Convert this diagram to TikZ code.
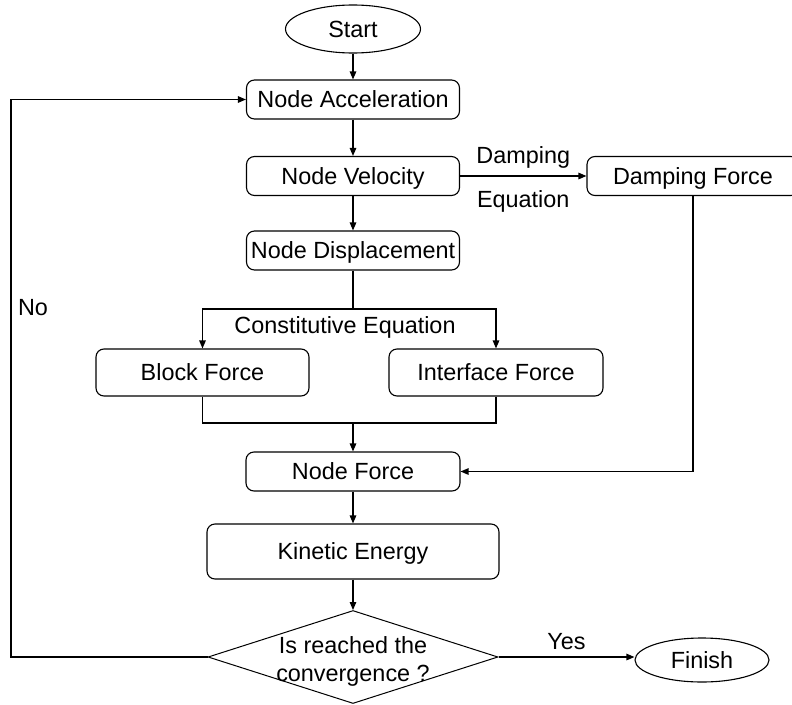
\documentclass[tikz,border=0pt]{standalone}
\usepackage{fontspec}
\setmainfont{Liberation Sans}
\usetikzlibrary{arrows.meta,shapes.geometric}
\begin{document}
\begin{tikzpicture}[x=1pt,y=-1pt,
  every node/.style={font=\fontsize{23.4}{28}\selectfont,
    text height=16.75pt, text depth=0pt, inner sep=0pt},
  proc/.style={draw, rounded corners=8pt, line width=1.1pt},
  term/.style={draw, ellipse, line width=1.1pt},
  decide/.style={draw, diamond, line width=1pt},
  flow/.style={line width=1.2pt, -{Triangle[length=8pt,width=6.5pt]}},
  link/.style={line width=1.2pt}]
\useasboundingbox (0,0) rectangle (792,704);

% terminals
\node[term, minimum width=135pt, minimum height=48pt] (start) at (353,29) {Start};
\node[term, minimum width=134pt, minimum height=44pt] (finish) at (702,660) {Finish};

% process boxes
\node[proc, minimum width=213pt, minimum height=39pt] (acc)   at (353,99.5)  {Node Acceleration};
\node[proc, minimum width=213pt, minimum height=39pt] (vel)   at (353,176)   {Node Velocity};
\node[proc, minimum width=212pt, minimum height=39pt] (damp)  at (693,176)   {Damping Force};
\node[proc, minimum width=213pt, minimum height=39pt] (disp)  at (353,250.5) {Node Displacement};
\node[proc, minimum width=213pt, minimum height=47pt] (block) at (202.5,372.5) {Block Force};
\node[proc, minimum width=214pt, minimum height=47pt] (iface) at (496,372.5) {Interface Force};
\node[proc, minimum width=214pt, minimum height=39pt] (force) at (353,471.5) {Node Force};
\node[proc, minimum width=292pt, minimum height=55pt] (kin)   at (353,551.5) {Kinetic Energy};

% decision
\node[decide, minimum width=290pt, minimum height=93pt] (dia) at (353,657) {};
\node[align=center, text height={}, text depth={}] (question) at (353,661)
  {Is reached the\\convergence ?};

% free labels
\node (ceq) at (345,325) {Constitutive Equation};
\node (no)  at (33,307)  {No};

% helper points
\coordinate (split) at (353,309);
\coordinate (join)  at (353,423);
\coordinate (loop)  at (11,657);

% main column
\draw[flow] (start) -- (acc);
\draw[flow] (acc) -- (vel);
\draw[flow] (vel) -- (disp);
\draw[flow] (vel) -- node[above=12.3pt] (dlbl) {Damping}
                     node[below=14pt] (elbl) {Equation} (damp);

% constitutive split
\draw[link] (disp.south) -- (split);
\draw[flow] (split) -| (block.north);
\draw[flow] (split) -| (iface.north);

% force assembly
\draw[link] (block.south) |- (join);
\draw[link] (iface.south) |- (join);
\draw[flow] (join) -- (force.north);
\draw[flow] (damp.south) |- (force.east);

\draw[flow] (force) -- (kin);
\draw[flow] (kin) -- (dia);

% convergence check
\draw[flow] (dia.east) -- node[above=6.5pt] (yes) {Yes} (dia.east -| finish.west);
\draw[flow] (dia.west) -- (loop) |- (acc.west);
\end{tikzpicture}
\end{document}
